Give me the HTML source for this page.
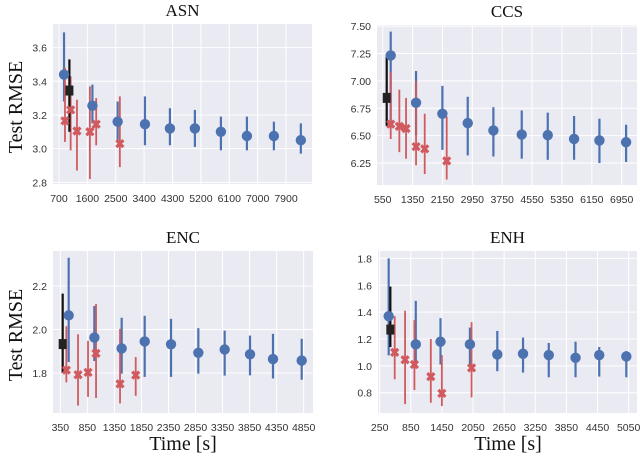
<!DOCTYPE html>
<html><head><meta charset="utf-8"><style>
body{margin:0;background:#fff;width:640px;height:461px;overflow:hidden}
svg text{font-family:"Liberation Sans",sans-serif}
.serif{font-family:"Liberation Serif",serif}
</style></head><body>
<svg id="chart" width="640" height="461" xmlns="http://www.w3.org/2000/svg"></svg>
<script>
// ---- ASN data ----
const asnTicksX=[700,1600,2500,3400,4300,5200,6100,7000,7900];
const asnTicksY=[2.8,3.0,3.2,3.4,3.6];
const asnBlueX=[860,1760,2560,3426,4218,5010,5835,6660,7515,8370];
const asnBlueY=[3.44,3.255,3.16,3.145,3.12,3.12,3.10,3.075,3.075,3.05];
const asnBlueLo=[3.28,3.15,3.05,3.02,3.02,3.01,2.99,2.99,2.99,2.97];
const asnBlueHi=[3.69,3.38,3.28,3.31,3.24,3.23,3.19,3.19,3.16,3.15];
const asnBlackX=[1030],asnBlackY=[3.345],asnBlackLo=[3.10],asnBlackHi=[3.53];
const asnRedX=[890,1070,1270,1680,1880,2630];
const asnRedY=[3.165,3.23,3.105,3.10,3.145,3.03];
const asnRedLo=[3.04,2.99,2.87,2.82,3.02,2.89];
const asnRedHi=[3.48,3.43,3.29,3.37,3.30,3.31];
// ---- CCS data ----
const ccsTicksX=[550,1350,2150,2950,3750,4550,5350,6150,6950];
const ccsTicksY=[6.25,6.5,6.75,7.0,7.25,7.5];
const ccsTickLabY=["6.25","6.50","6.75","7.00","7.25","7.50"];
const ccsBlueX=[764,1443,2148,2827,3514,4273,4970,5675,6354,7068];
const ccsBlueY=[7.232,6.80,6.70,6.615,6.548,6.51,6.505,6.47,6.457,6.44];
const ccsBlueLo=[6.6,6.5,6.37,6.32,6.31,6.29,6.28,6.28,6.25,6.26];
const ccsBlueHi=[7.45,7.09,6.955,6.855,6.76,6.73,6.71,6.68,6.655,6.60];
const ccsBlackX=[657],ccsBlackY=[6.845],ccsBlackLo=[6.59],ccsBlackHi=[7.22];
const ccsRedX=[764,996,1175,1443,1675,2264];
const ccsRedY=[6.605,6.585,6.565,6.40,6.38,6.27];
const ccsRedLo=[6.47,6.35,6.29,6.23,6.15,6.10];
const ccsRedHi=[7.08,6.92,6.845,7.00,6.70,6.675];
// ---- ENC data ----
const encTicksX=[350,850,1350,1850,2350,2850,3350,3850,4350,4850];
const encTicksY=[1.8,2.0,2.2];
const encBlueX=[504,979,1484,1910,2397,2902,3389,3858,4283,4814];
const encBlueY=[2.065,1.963,1.913,1.945,1.932,1.893,1.908,1.886,1.864,1.857];
const encBlueLo=[1.85,1.855,1.797,1.782,1.782,1.797,1.788,1.789,1.775,1.769];
const encBlueHi=[2.33,2.108,2.054,2.063,2.049,2.006,1.995,1.972,1.98,1.957];
const encBlackX=[393],encBlackY=[1.933],encBlackLo=[1.80],encBlackHi=[2.165];
const encRedX=[461,677,862,1010,1454,1744];
const encRedY=[1.813,1.792,1.803,1.89,1.75,1.79];
const encRedLo=[1.757,1.65,1.69,1.685,1.66,1.695];
const encRedHi=[2.015,1.978,1.948,2.117,2.003,1.873];
// ---- ENH data ----
const enhTicksX=[250,850,1450,2050,2650,3250,3850,4450,5050];
const enhTicksY=[0.8,1.0,1.2,1.4,1.6,1.8];
const enhBlueX=[424,946,1423,1990,2518,3014,3510,4026,4483,5005];
const enhBlueY=[1.37,1.16,1.18,1.16,1.085,1.09,1.08,1.06,1.08,1.07];
const enhBlueLo=[1.078,0.98,1.01,0.99,0.96,0.95,0.915,0.915,0.92,0.915];
const enhBlueHi=[1.80,1.484,1.355,1.285,1.26,1.21,1.17,1.18,1.14,1.11];
const enhBlackX=[456],enhBlackY=[1.27],enhBlackLo=[1.14],enhBlackHi=[1.59];
const enhRedX=[540,740,920,1236,1449,2022];
const enhRedY=[1.10,1.045,1.01,0.92,0.795,0.985];
const enhRedLo=[0.90,0.715,0.82,0.725,0.70,0.765];
const enhRedHi=[1.37,1.41,1.34,1.20,1.08,1.325];

const NS="http://www.w3.org/2000/svg";
const svg=document.getElementById('chart');
function mk(tag,attrs,parent){const e=document.createElementNS(NS,tag);for(const k in attrs)e.setAttribute(k,attrs[k]);(parent||svg).appendChild(e);return e;}

function panel(p){
  const g=mk('g',{});
  
  
  const sx=v=>p.x0+(v-p.xmin)/(p.xmax-p.xmin)*(p.x1-p.x0);
  const sy=v=>p.y1-(v-p.ymin)/(p.ymax-p.ymin)*(p.y1-p.y0);
  const bg=mk('rect',{x:p.x0,y:p.y0,width:p.x1-p.x0,height:p.y1-p.y0,fill:'#EAEAF2'},g);
  
  
  p.tx.forEach(t=>{const X=sx(t);
    const l=mk('line',{x1:X,x2:X,y1:p.y0,y2:p.y1,stroke:'#fff','stroke-width':1},g);
    
    const tt=mk('text',{x:X,y:p.y1+18,'text-anchor':'middle','font-size':10.5,fill:'#333'},g);
    
    tt.textContent=String(t);});
  p.ty.forEach((t,i)=>{const Y=sy(t);
    const l=mk('line',{x1:p.x0,x2:p.x1,y1:Y,y2:Y,stroke:'#fff','stroke-width':1},g);
    
    const tt=mk('text',{x:p.x0-6,y:Y+4,'text-anchor':'end','font-size':10.5,fill:'#333'},g);
    
    tt.textContent=p.tyl?p.tyl[i]:t.toFixed(1);});
  const ti=mk('text',{x:(p.x0+p.x1)/2,y:p.y0-8,'text-anchor':'middle','font-size':17,fill:'#111',class:'serif'},g);
  
  ti.textContent=p.title;
  function err(xs,ys,lo,hi,col,w,kind){
    xs.forEach((x,i)=>{const X=sx(x);
      const l=mk('line',{x1:X,x2:X,y1:sy(lo[i]),y2:sy(hi[i]),stroke:col,'stroke-width':w},g);
      });
  }
  function marks(xs,ys,col,kind){
    xs.forEach((x,i)=>{const X=sx(x),Y=sy(ys[i]);let m;
      if(kind==='blue'){m=mk('circle',{cx:X,cy:Y,r:5.2,fill:col},g);}
      else if(kind==='black'){m=mk('rect',{x:X-4,y:Y-5,width:8,height:10,fill:'#222'},g);}
      else{m=mk('path',{d:`M${X-3.5},${Y-3.5}L${X+3.5},${Y+3.5}M${X+3.5},${Y-3.5}L${X-3.5},${Y+3.5}`,stroke:col,'stroke-width':3.2},g);}
      });
  }
  err(p.bx,p.by,p.blo,p.bhi,'#4C72B0',2.2,'blue');
  err(p.rx,p.ry,p.rlo,p.rhi,'#D05A5E',1.8,'red');
  err(p.kx,p.ky,p.klo,p.khi,'#111',2.2,'black');
  marks(p.bx,p.by,'#4C72B0','blue');
  marks(p.kx,p.ky,'#111','black');
  marks(p.rx,p.ry,'#D05A5E','red');
}
panel({name:'asn',title:'ASN',x0:53,x1:312,y0:24,y1:184,xmin:510,xmax:8724,ymin:2.79,ymax:3.74,
  tx:asnTicksX,ty:asnTicksY,bx:asnBlueX,by:asnBlueY,blo:asnBlueLo,bhi:asnBlueHi,
  rx:asnRedX,ry:asnRedY,rlo:asnRedLo,rhi:asnRedHi,kx:asnBlackX,ky:asnBlackY,klo:asnBlackLo,khi:asnBlackHi});
panel({name:'ccs',title:'CCS',x0:377,x1:637,y0:25,y1:185,xmin:397,xmax:7360,ymin:6.05,ymax:7.51,
  tx:ccsTicksX,ty:ccsTicksY,tyl:ccsTickLabY,bx:ccsBlueX,by:ccsBlueY,blo:ccsBlueLo,bhi:ccsBlueHi,
  rx:ccsRedX,ry:ccsRedY,rlo:ccsRedLo,rhi:ccsRedHi,kx:ccsBlackX,ky:ccsBlackY,klo:ccsBlackLo,khi:ccsBlackHi});
panel({name:'enc',title:'ENC',x0:53,x1:313,y0:251,y1:413,xmin:214,xmax:5023,ymin:1.616,ymax:2.361,
  tx:encTicksX,ty:encTicksY,bx:encBlueX,by:encBlueY,blo:encBlueLo,bhi:encBlueHi,
  rx:encRedX,ry:encRedY,rlo:encRedLo,rhi:encRedHi,kx:encBlackX,ky:encBlackY,klo:encBlackLo,khi:encBlackHi});
panel({name:'enh',title:'ENH',x0:378,x1:637,y0:251,y1:413,xmin:218,xmax:5211,ymin:0.649,ymax:1.855,
  tx:enhTicksX,ty:enhTicksY,bx:enhBlueX,by:enhBlueY,blo:enhBlueLo,bhi:enhBlueHi,
  rx:enhRedX,ry:enhRedY,rlo:enhRedLo,rhi:enhRedHi,kx:enhBlackX,ky:enhBlackY,klo:enhBlackLo,khi:enhBlackHi});

function label(txt,x,y,rot,name){
  const t=mk('text',{x:x,y:y,'text-anchor':'middle','font-size':20,fill:'#111',class:'serif',transform:rot?`rotate(-90 ${x} ${y})`:''});
  
  
  t.textContent=txt;
}
label('Test RMSE',22,107,true,'y-axis-title-top');
label('Test RMSE',22,335,true,'y-axis-title-bottom');
label('Time [s]',183,450,false,'x-axis-title-left');
label('Time [s]',508,450,false,'x-axis-title-right');
</script>
</body></html>
